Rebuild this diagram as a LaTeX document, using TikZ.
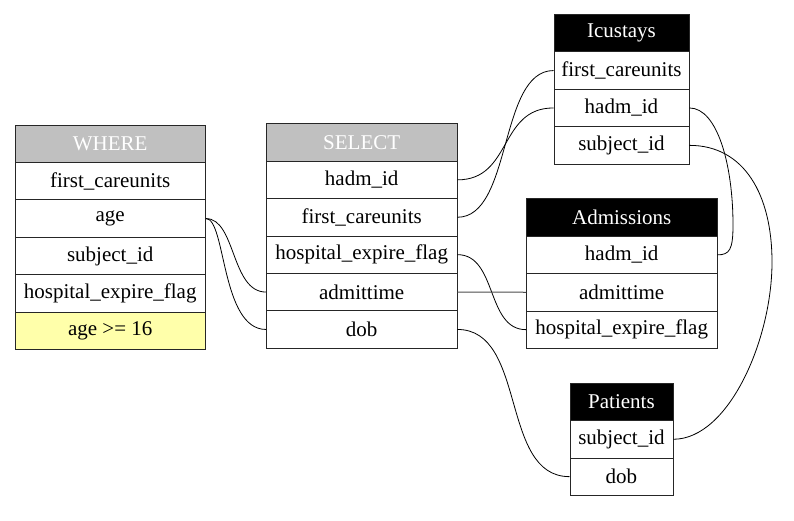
\documentclass[tikz,border=0pt]{standalone}
\usepackage{fontspec}
\setmainfont{Liberation Serif}
\begin{document}
\begin{tikzpicture}[x=1pt,y=-1pt,
  cell/.style={draw=black!85, line width=0.9pt, fill=white, inner sep=0pt, minimum height=37.4pt, font=\fontsize{21}{24}\selectfont, anchor=north west},
  grayhdr/.style={cell, fill={rgb,255:red,192;green,192;blue,192}, text=white},
  blackhdr/.style={cell, fill=black, text=white},
  condcell/.style={cell, fill={rgb,255:red,255;green,255;blue,170}},
  link/.style={line width=0.8pt, black},
  straightlink/.style={line width=1pt, black!70}]
\useasboundingbox (0,0) rectangle (794,520);
% WHERE
\begin{scope}[every node/.append style={minimum width=190.5pt}]
\node[grayhdr] (wh) at (14.5,124.6) {WHERE};
\node[cell] (wh-fc) at (14.5,162.0) {first\_careunits};
\node[cell] (wh-age) at (14.5,199.4) {age};
\node[cell] (wh-subj) at (14.5,236.8) {subject\_id};
\node[cell] (wh-hef) at (14.5,274.2) {hospital\_expire\_flag};
\node[condcell] (wh-cond) at (14.5,311.6) {age >= 16};
% SELECT
\node[grayhdr] (sel) at (266,123.3) {SELECT};
\node[cell] (sel-hadm) at (266,160.7) {hadm\_id};
\node[cell] (sel-fc) at (266,198.1) {first\_careunits};
\node[cell] (sel-hef) at (266,235.5) {hospital\_expire\_flag};
\node[cell] (sel-adm) at (266,272.9) {admittime};
\node[cell] (sel-dob) at (266,310.3) {dob};
% Admissions
\node[blackhdr] (adm) at (526,198.3) {Admissions};
\node[cell] (adm-hadm) at (526,235.7) {hadm\_id};
\node[cell] (adm-adm) at (526,273.1) {admittime};
\node[cell] (adm-hef) at (526,310.5) {hospital\_expire\_flag};
\end{scope}
% Icustays
\begin{scope}[every node/.append style={minimum width=135pt}]
\node[blackhdr] (icu) at (553.5,14) {Icustays};
\node[cell] (icu-fc) at (553.5,51.4) {first\_careunits};
\node[cell] (icu-hadm) at (553.5,88.8) {hadm\_id};
\node[cell] (icu-subj) at (553.5,126.2) {subject\_id};
\end{scope}
% Patients
\begin{scope}[every node/.append style={minimum width=103pt}]
\node[blackhdr] (pat) at (569.5,382.7) {Patients};
\node[cell] (pat-subj) at (569.5,420.1) {subject\_id};
\node[cell] (pat-dob) at (569.5,457.5) {dob};
\end{scope}
% links
\coordinate (c1) at (733,225);
\coordinate (c2) at (772,262);
\draw[link] (sel-hadm.east) .. controls +(55,0) and +(-55,0) .. (icu-hadm.west);
\draw[link] (sel-fc.east) .. controls +(55,0) and +(-55,0) .. (icu-fc.west);
\draw[link] (sel-hef.east) .. controls +(40,0) and +(-40,0) .. (adm-hef.west);
\draw[straightlink] (sel-adm.east) -- (adm-adm.west);
\draw[link] (sel-dob.east) .. controls +(70,0) and +(-70,0) .. (pat-dob.west);
\draw[link] (wh-age.east) .. controls +(30,0) and +(-35,0) .. (sel-adm.west);
\draw[link] (wh-age.east) .. controls +(20,0) and +(-45,0) .. (sel-dob.west);
\draw[link] (icu-hadm.east) .. controls +(28,0) and (733,165) .. (c1) .. controls (733,250) and +(12,0) .. (adm-hadm.east);
\draw[link] (icu-subj.east) .. controls +(55,0) and (772,195) .. (c2) .. controls (772,340) and +(55,0) .. (pat-subj.east);
\end{tikzpicture}
\end{document}
